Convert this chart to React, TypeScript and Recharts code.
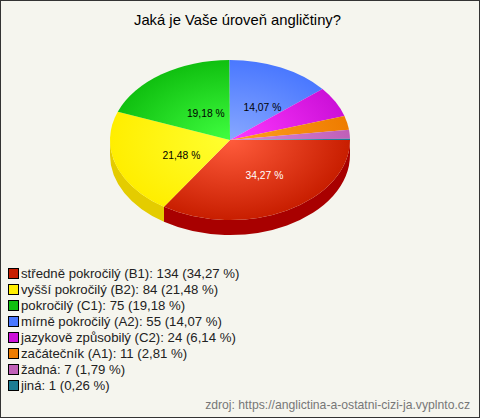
import React from "react";
import { PieChart, Pie, Customized } from "recharts";

const categories = ["středně pokročilý (B1)", "vyšší pokročilý (B2)", "pokročilý (C1)", "mírně pokročilý (A2)", "jazykově způsobilý (C2)", "začátečník (A1)", "žadná", "jiná"];
const counts = [134, 84, 75, 55, 24, 11, 7, 1];
const percents = ["34,27", "21,48", "19,18", "14,07", "6,14", "2,81", "1,79", "0,26"];
const legendColors = ["#c81e00", "#ffee00", "#10c010", "#4a78ff", "#cc10d8", "#ee7c00", "#c060b8", "#1c7c94"];
const innerColors = ["#ff5c3c", "#ffff30", "#40ff40", "#88a8ff", "#ff38ff", "#ffa020", "#d888d8", "#40a0b8"];
const sideColors = ["#a80000", "#e4cc00", "#0a900a", "#3058c0", "#9c0ca8", "#c06000", "#904890", "#145c70"];
const title = "Jaká je Vaše úroveň angličtiny?";
const source = "zdroj: https://anglictina-a-ostatni-cizi-ja.vyplnto.cz";

const data = categories.map((name, i) => ({ name, value: counts[i], pct: percents[i], idx: i }));
const W = 480, H = 418;
const CX = 230, CY = 140, RX = 120, RY = 80, DEPTH = 15;
const RATIO = RY / RX;
const FONT = "Arial, 'Liberation Sans', sans-serif";
const labelDx = [6, 8.5, 10, 7];
const labelDy = [0, 3, 6, 4];

const pt = (cx: number, cy: number, r: number, deg: number) => {
  const a = (deg * Math.PI) / 180;
  return [cx + r * Math.cos(a), cy - r * RATIO * Math.sin(a)];
};

const TopSlice = (p: any) => {
  const [x1, y1] = pt(p.cx, p.cy, p.outerRadius, p.startAngle);
  const [x2, y2] = pt(p.cx, p.cy, p.outerRadius, p.endAngle);
  const large = Math.abs(p.endAngle - p.startAngle) > 180 ? 1 : 0;
  const d = `M${p.cx},${p.cy} L${x1},${y1} A${p.outerRadius},${p.outerRadius * RATIO} 0 ${large} 1 ${x2},${y2} Z`;
  return <path d={d} fill={`url(#grad${p.payload.idx})`} />;
};

const SideSlice = (p: any) => {
  const s = Math.max(p.startAngle, -180);
  const e = Math.max(p.endAngle, -180);
  if (p.startAngle <= -180 || s === e) return <g />;
  const [x1, y1] = pt(p.cx, p.cy, p.outerRadius, s);
  const [x2, y2] = pt(p.cx, p.cy, p.outerRadius, e);
  const rx = p.outerRadius, ry = p.outerRadius * RATIO;
  const d = `M${x1},${y1} A${rx},${ry} 0 0 1 ${x2},${y2} L${x2},${y2 + DEPTH} A${rx},${ry} 0 0 0 ${x1},${y1 + DEPTH} Z`;
  return <path d={d} fill={sideColors[p.payload.idx]} />;
};

const sliceLabel = (p: any) => {
  const i = p.payload.idx;
  if (i > 3) return <g key={i} />;
  const mid = (p.startAngle + p.endAngle) / 2;
  const [x, y] = pt(p.cx, p.cy, p.outerRadius * 0.5, mid);
  return (
    <text key={i} x={x + labelDx[i]} y={y + labelDy[i]} textAnchor="middle" dominantBaseline="central" fontFamily={FONT} fontSize={10.3} fill={i === 0 ? "#ffffff" : "#000000"}>
      {p.payload.pct} %
    </text>
  );
};

const Gradients = () => (
  <defs>
    {data.map((d) => (
      <radialGradient key={d.idx} id={`grad${d.idx}`} gradientUnits="userSpaceOnUse" cx={0} cy={0} r={1} gradientTransform={`translate(${CX} ${CY}) scale(${RX} ${RY})`}>
        <stop offset="0" stopColor={innerColors[d.idx]} />
        <stop offset="1" stopColor={legendColors[d.idx]} />
      </radialGradient>
    ))}
  </defs>
);

export default function App() {
  return (
    <div style={{ position: "fixed", left: 0, top: 0, width: W, height: H, background: "#f5f5ee", overflow: "hidden", fontFamily: FONT }}>
      <div style={{ position: "absolute", left: 0, top: 12, width: 475, textAlign: "center", fontSize: 14.8, color: "#000" }}>{title}</div>
      <div style={{ position: "absolute", left: 0, top: 0 }}>
        <PieChart width={W} height={260} margin={{ top: 0, right: 0, bottom: 0, left: 0 }}>
          <Customized component={Gradients} />
          <Pie data={data} dataKey="value" cx={CX} cy={CY} outerRadius={RX} startAngle={0} endAngle={-360} stroke="none" isAnimationActive={false} shape={SideSlice} label={false} labelLine={false} />
          <Pie data={data} dataKey="value" cx={CX} cy={CY} outerRadius={RX} startAngle={0} endAngle={-360} stroke="none" isAnimationActive={false} shape={TopSlice} label={sliceLabel} labelLine={false} />
        </PieChart>
      </div>
      <div style={{ position: "absolute", left: 8, top: 265 }}>
        {data.map((d) => (
          <div key={d.idx} style={{ height: 16, display: "flex", alignItems: "center", fontSize: 13.2, color: "#222", whiteSpace: "nowrap" }}>
            <span style={{ width: 9, height: 9, background: legendColors[d.idx], border: "1px solid #000", marginRight: 2, flex: "none" }} />
            {d.name}: {d.value} ({d.pct} %)
          </div>
        ))}
      </div>
      <div style={{ position: "absolute", right: 10, top: 398, fontSize: 12.2, color: "#777" }}>{source}</div>
      <div style={{ position: "absolute", left: 0, top: 0, width: W, height: H, border: "1px solid #333", boxSizing: "border-box" }} />
    </div>
  );
}
